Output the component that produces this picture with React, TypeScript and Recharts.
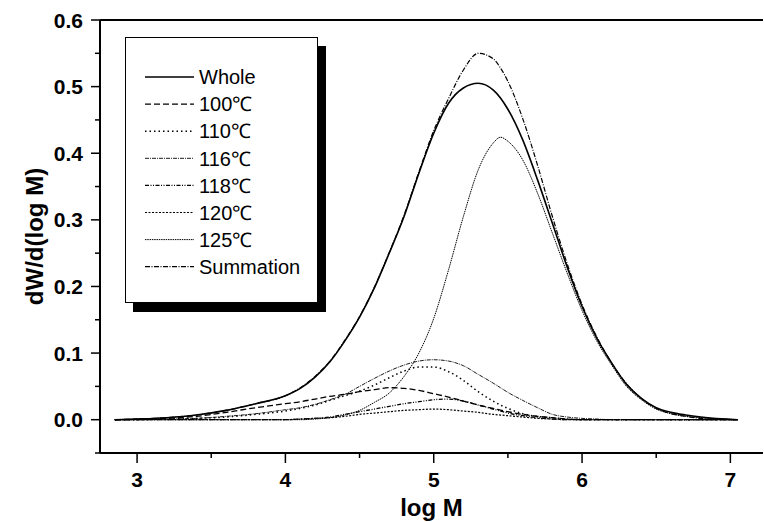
import { LineChart, Line, XAxis, YAxis, Legend, ReferenceLine } from "recharts";

const logM = [2.85, 3.0, 3.2, 3.4, 3.6, 3.8, 4.0, 4.1, 4.2, 4.3, 4.4, 4.5, 4.6, 4.7, 4.8, 4.9, 5.0, 5.1, 5.2, 5.3, 5.4, 5.45, 5.5, 5.6, 5.7, 5.8, 5.9, 6.0, 6.1, 6.2, 6.3, 6.4, 6.5, 6.6, 6.7, 6.8, 7.05];

const whole = [0, 0.001, 0.003, 0.007, 0.014, 0.024, 0.036, 0.047, 0.064, 0.087, 0.118, 0.154, 0.198, 0.25, 0.305, 0.37, 0.43, 0.475, 0.498, 0.505, 0.495, 0.483, 0.466, 0.42, 0.36, 0.295, 0.229, 0.17, 0.122, 0.085, 0.053, 0.032, 0.018, 0.011, 0.007, 0.004, 0];
const t100 = [0, 0.0005, 0.002, 0.005, 0.011, 0.018, 0.024, 0.027, 0.031, 0.035, 0.038, 0.042, 0.045, 0.048, 0.047, 0.044, 0.039, 0.034, 0.028, 0.022, 0.017, 0.0145, 0.012, 0.008, 0.005, 0.003, 0.001, 0, 0, 0, 0, 0, 0, 0, 0, 0, 0];
const t110 = [0, 0, 0.001, 0.002, 0.004, 0.008, 0.013, 0.017, 0.022, 0.029, 0.036, 0.043, 0.052, 0.063, 0.073, 0.079, 0.079, 0.072, 0.059, 0.042, 0.028, 0.022, 0.017, 0.009, 0.005, 0.003, 0.001, 0, 0, 0, 0, 0, 0, 0, 0, 0, 0];
const t116 = [0, 0, 0.001, 0.002, 0.005, 0.009, 0.015, 0.018, 0.023, 0.03, 0.038, 0.05, 0.062, 0.073, 0.082, 0.088, 0.09, 0.088, 0.081, 0.068, 0.055, 0.048, 0.041, 0.029, 0.018, 0.008, 0.004, 0.002, 0.001, 0, 0, 0, 0, 0, 0, 0, 0];
const t118 = [0, 0, 0, 0, 0, 0, 0, 0.001, 0.002, 0.004, 0.008, 0.012, 0.016, 0.02, 0.024, 0.027, 0.03, 0.031, 0.028, 0.022, 0.016, 0.013, 0.01, 0.006, 0.003, 0.001, 0, 0, 0, 0, 0, 0, 0, 0, 0, 0, 0];
const t120 = [0, 0, 0, 0, 0, 0, 0, 0.001, 0.002, 0.003, 0.005, 0.008, 0.01, 0.012, 0.014, 0.015, 0.016, 0.015, 0.013, 0.011, 0.008, 0.007, 0.006, 0.004, 0.002, 0.001, 0, 0, 0, 0, 0, 0, 0, 0, 0, 0, 0];
const t125 = [0, 0, 0, 0, 0, 0, 0, 0, 0.001, 0.003, 0.007, 0.014, 0.026, 0.04, 0.065, 0.1, 0.152, 0.225, 0.305, 0.375, 0.415, 0.424, 0.418, 0.39, 0.34, 0.28, 0.22, 0.164, 0.118, 0.082, 0.05, 0.03, 0.016, 0.009, 0.005, 0.003, 0];
const summation = [0, 0.001, 0.003, 0.007, 0.014, 0.024, 0.036, 0.048, 0.065, 0.088, 0.119, 0.155, 0.199, 0.251, 0.307, 0.372, 0.434, 0.482, 0.525, 0.55, 0.542, 0.528, 0.508, 0.452, 0.382, 0.305, 0.234, 0.173, 0.124, 0.085, 0.054, 0.032, 0.017, 0.009, 0.005, 0.002, 0];

const xTicks = [3, 3.5, 4, 4.5, 5, 5.5, 6, 6.5, 7];
const yTicks = [-0.05, 0, 0.05, 0.1, 0.15, 0.2, 0.25, 0.3, 0.35, 0.4, 0.45, 0.5, 0.55, 0.6];

// legend order follows this list
const series = [
  { key: "whole", name: "Whole", dash: undefined, width: 1.6 },
  { key: "t100", name: "100℃", dash: "6 3", width: 1.3 },
  { key: "t110", name: "110℃", dash: "1.5 3", width: 1.5 },
  { key: "t116", name: "116℃", dash: "4 1 1 1", width: 0.9 },
  { key: "t118", name: "118℃", dash: "4 1.5 1 1.5 1 1.5", width: 1.3 },
  { key: "t120", name: "120℃", dash: "2 1.5", width: 1.2 },
  { key: "t125", name: "125℃", dash: "1.5 0.8", width: 1 },
  { key: "summation", name: "Summation", dash: "5 1.5 1 1.5", width: 1.2 },
];

const data = logM.map((m, i) => ({
  logM: m, whole: whole[i], t100: t100[i], t110: t110[i], t116: t116[i],
  t118: t118[i], t120: t120[i], t125: t125[i], summation: summation[i],
}));

const FONT = '"Liberation Sans", Arial, Helvetica, sans-serif';

const isMajor = (v: number, step: number) => Math.abs(v / step - Math.round(v / step)) < 1e-6;

const YTick = ({ x, y, payload }: any) => {
  const major = isMajor(payload.value, 0.1);
  return (
    <g>
      <line x1={x - (major ? 9 : 5)} x2={x} y1={y} y2={y} stroke="#000" strokeWidth={1.5} />
      {major && (
        <text x={x - 17} y={y} dy="0.36em" textAnchor="end" fontFamily={FONT} fontWeight="bold" fontSize={21} fill="#000">
          {payload.value.toFixed(1)}
        </text>
      )}
    </g>
  );
};

const XTick = ({ x, y, payload }: any) => {
  const major = isMajor(payload.value, 1);
  return (
    <g>
      <line x1={x} x2={x} y1={y} y2={y + (major ? 10 : 5)} stroke="#000" strokeWidth={1.5} />
      {major && (
        <text x={x} y={y + 34} textAnchor="middle" fontFamily={FONT} fontWeight="bold" fontSize={21} fill="#000">
          {payload.value}
        </text>
      )}
    </g>
  );
};

const LegendBox = () => (
  <div style={{ width: 193, height: 266, background: "#fff", border: "1.5px solid #000", boxShadow: "8px 9px 0 #000", boxSizing: "border-box" }}>
    <svg width={190} height={263} style={{ display: "block" }}>
      {series.map((s, i) => {
        const cy = 39 + i * 27.1;
        return (
          <g key={s.key}>
            <line x1={19} x2={68} y1={cy} y2={cy} stroke="#000" strokeWidth={s.width} strokeDasharray={s.dash} />
            <text x={73} y={cy} dy="0.36em" fontFamily={FONT} fontSize={20} fill="#000">{s.name}</text>
          </g>
        );
      })}
    </svg>
  </div>
);

const XTitle = ({ viewBox }: any) => (
  <text x={viewBox.x + viewBox.width / 2} y={viewBox.y + 63} textAnchor="middle" fontFamily={FONT} fontWeight="bold" fontSize={24} fill="#000">
    log M
  </text>
);

const YTitle = ({ viewBox }: any) => {
  const x = viewBox.x + 43;
  const y = viewBox.y + viewBox.height / 2;
  return (
    <text x={x} y={y} transform={`rotate(-90 ${x} ${y})`} textAnchor="middle" fontFamily={FONT} fontWeight="bold" fontSize={24} fill="#000">
      dW/d(log M)
    </text>
  );
};

export default function App() {
  return (
    <div style={{ position: "absolute", left: 0, top: 0, width: 764, height: 522, background: "#fff" }}>
      <LineChart width={764} height={522} data={data} margin={{ top: 20, right: 1, left: 0, bottom: 0 }}>
        <XAxis
          dataKey="logM" type="number" domain={[2.75, 7.22]} ticks={xTicks} interval={0}
          height={69} tickSize={0} tickMargin={0} tick={<XTick />} tickLine={false}
          axisLine={{ stroke: "#000", strokeWidth: 2 }} allowDataOverflow
          label={<XTitle />}
        />
        <YAxis
          type="number" domain={[-0.05, 0.6]} ticks={yTicks} interval={0}
          width={100} tickSize={0} tickMargin={0} tick={<YTick />} tickLine={false}
          axisLine={{ stroke: "#000", strokeWidth: 2 }} allowDataOverflow
          label={<YTitle />}
        />
        <ReferenceLine y={0.6} stroke="#000" strokeWidth={2} />
        {series.map((s) => (
          <Line
            key={s.key} dataKey={s.key} name={s.name} type="monotone" stroke="#000"
            strokeWidth={s.width} strokeDasharray={s.dash} dot={false} activeDot={false}
            isAnimationActive={false}
          />
        ))}
        <Legend
          layout="vertical" align="center" verticalAlign="middle" content={<LegendBox />}
          wrapperStyle={{ position: "absolute", left: 125, top: 37, width: 193, height: 266 }}
        />
      </LineChart>
    </div>
  );
}
